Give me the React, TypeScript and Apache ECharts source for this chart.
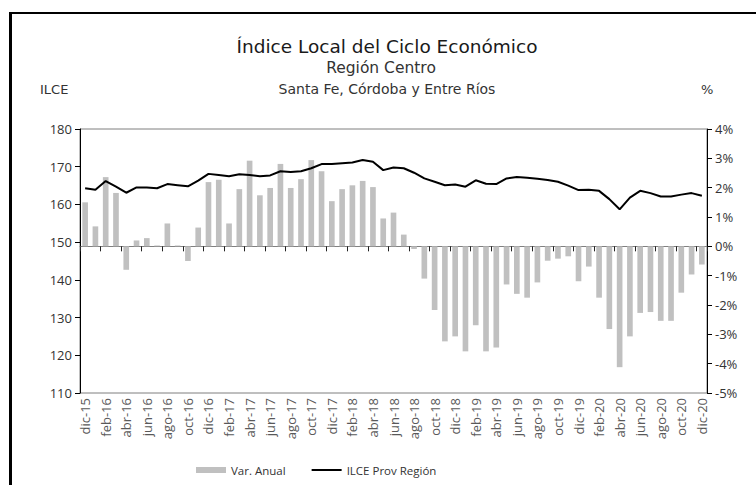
import React, { useEffect, useRef } from "react";
import * as echarts from "echarts";

const categories: string[] = [
  "dic-15",
  "ene-16", "feb-16", "mar-16", "abr-16", "may-16", "jun-16", "jul-16", "ago-16", "sep-16", "oct-16", "nov-16", "dic-16",
  "ene-17", "feb-17", "mar-17", "abr-17", "may-17", "jun-17", "jul-17", "ago-17", "sep-17", "oct-17", "nov-17", "dic-17",
  "ene-18", "feb-18", "mar-18", "abr-18", "may-18", "jun-18", "jul-18", "ago-18", "sep-18", "oct-18", "nov-18", "dic-18",
  "ene-19", "feb-19", "mar-19", "abr-19", "may-19", "jun-19", "jul-19", "ago-19", "sep-19", "oct-19", "nov-19", "dic-19",
  "ene-20", "feb-20", "mar-20", "abr-20", "may-20", "jun-20", "jul-20", "ago-20", "sep-20", "oct-20", "nov-20", "dic-20",
];

// Var. Anual (%), right axis
const varAnual: number[] = [
  1.5,
  0.68, 2.36, 1.82, -0.8, 0.2, 0.28, 0.03, 0.78, 0.03, -0.5, 0.64, 2.19,
  2.27, 0.78, 1.95, 2.92, 1.74, 1.99, 2.81, 1.99, 2.29, 2.94, 2.56, 1.54,
  1.95, 2.08, 2.23, 2.02, 0.95, 1.15, 0.4, -0.09, -1.1, -2.17, -3.24, -3.07,
  -3.58, -2.69, -3.58, -3.45, -1.3, -1.62, -1.75, -1.23, -0.49, -0.42, -0.34, -1.19,
  -0.69, -1.75, -2.82, -4.12, -3.07, -2.27, -2.24, -2.54, -2.54, -1.58, -0.96, -0.62,
];

// ILCE Prov Región, left axis
const ilce: number[] = [
  164.3,
  163.9, 166.2, 164.7, 163.1, 164.5, 164.5, 164.3, 165.4, 165.1, 164.8, 166.3, 168.1,
  167.8, 167.5, 168.0, 167.8, 167.5, 167.7, 168.8, 168.6, 168.8, 169.6, 170.7, 170.7,
  170.9, 171.1, 171.8, 171.3, 169.1, 169.8, 169.6, 168.4, 166.9, 166.0, 165.1, 165.3,
  164.7, 166.4, 165.5, 165.4, 166.9, 167.3, 167.1, 166.8, 166.5, 166.0, 165.0, 163.8,
  163.9, 163.6, 161.4, 158.7, 161.8, 163.6, 163.0, 162.1, 162.1, 162.6, 163.0, 162.3,
];

const leftTicks = { min: 110, max: 180, interval: 10 };
const rightTicks = { min: -5, max: 4, interval: 1 };

const FONT = "Open Sans";
const TITLE_FONT = "DejaVu Sans";

export default function App() {
  const ref = useRef<HTMLDivElement>(null);
  useEffect(() => {
    if (!ref.current) return;
    const chart = echarts.init(ref.current, undefined, { renderer: "svg" });
    chart.setOption({
      animation: false,
      backgroundColor: "#ffffff",
      textStyle: { fontFamily: FONT },
      title: [
        {
          text: "Índice Local del Ciclo Económico",
          left: 382,
          top: 32,
          textAlign: "center",
          textStyle: { fontSize: 18.5, fontWeight: "normal", color: "#1a1a1a", fontFamily: TITLE_FONT },
        },
        {
          text: "Región Centro",
          left: 376,
          top: 55,
          textAlign: "center",
          textStyle: { fontSize: 15.5, fontWeight: "normal", color: "#333", fontFamily: TITLE_FONT },
        },
        {
          text: "Santa Fe, Córdoba y Entre Ríos",
          left: 382,
          top: 77,
          textAlign: "center",
          textStyle: { fontSize: 14, fontWeight: "normal", color: "#333", fontFamily: TITLE_FONT },
        },
        {
          text: "ILCE",
          left: 35,
          top: 78,
          textStyle: { fontSize: 13, fontWeight: "normal", color: "#333", fontFamily: TITLE_FONT },
        },
        {
          text: "%",
          left: 696,
          top: 78,
          textStyle: { fontSize: 13, fontWeight: "normal", color: "#333", fontFamily: TITLE_FONT },
        },
      ],
      graphic: [
        {
          type: "line",
          shape: { x1: 10.5, y1: 12, x2: 10.5, y2: 600 },
          style: { stroke: "#000", lineWidth: 3 },
          silent: true,
        },
        {
          type: "line",
          shape: { x1: 9, y1: 13, x2: 900, y2: 13 },
          style: { stroke: "#000", lineWidth: 2 },
          silent: true,
        },
      ],
      grid: {
        left: 80,
        right: 49,
        top: 129,
        bottom: 92,
        show: true,
        borderColor: "#7f7f7f",
        borderWidth: 1,
        backgroundColor: "transparent",
      },
      legend: {
        left: 196,
        top: 464,
        padding: 0,
        itemWidth: 30,
        itemHeight: 6,
        itemGap: 26,
        textStyle: { fontSize: 11.5, color: "#333", fontFamily: FONT },
        data: [
          { name: "Var. Anual", icon: "rect" },
          { name: "ILCE Prov Región", icon: "path://M0 0H30V2H0Z" },
        ],
      },
      xAxis: {
        type: "category",
        data: categories,
        boundaryGap: true,
        axisLine: { show: true, lineStyle: { color: "#808080", width: 1 } },
        axisTick: { show: true, interval: 1, length: 5, lineStyle: { color: "#222" } },
        axisLabel: {
          interval: 1,
          rotate: 90,
          color: "#595959",
          fontSize: 13,
          margin: 5,
          fontFamily: FONT,
        },
        splitLine: { show: false },
      },
      yAxis: [
        {
          type: "value",
          position: "left",
          ...leftTicks,
          axisLine: { show: true, lineStyle: { color: "#000", width: 1 } },
          axisTick: { show: true, length: 5, lineStyle: { color: "#000" } },
          axisLabel: { color: "#333", fontSize: 13, margin: 8, fontFamily: FONT },
          splitLine: { show: false },
        },
        {
          type: "value",
          position: "right",
          ...rightTicks,
          axisLine: { show: true, lineStyle: { color: "#000", width: 1 } },
          axisTick: { show: true, length: 5, lineStyle: { color: "#000" } },
          axisLabel: { color: "#333", fontSize: 13, margin: 8, formatter: "{value}%", fontFamily: FONT },
          splitLine: { show: false },
        },
      ],
      series: [
        {
          name: "Var. Anual",
          type: "bar",
          yAxisIndex: 1,
          data: varAnual,
          barWidth: "55%",
          itemStyle: { color: "#c0c0c0" },
          z: 2,
        },
        {
          name: "ILCE Prov Región",
          type: "line",
          yAxisIndex: 0,
          data: ilce,
          symbol: "none",
          showSymbol: false,
          lineStyle: { color: "#000", width: 2 },
          itemStyle: { color: "#000" },
          z: 3,
        },
      ],
    });
    return () => chart.dispose();
  }, []);
  return (
    <div
      ref={ref}
      style={{ position: "fixed", left: 0, top: 0, width: 756, height: 485, background: "#fff" }}
    />
  );
}
